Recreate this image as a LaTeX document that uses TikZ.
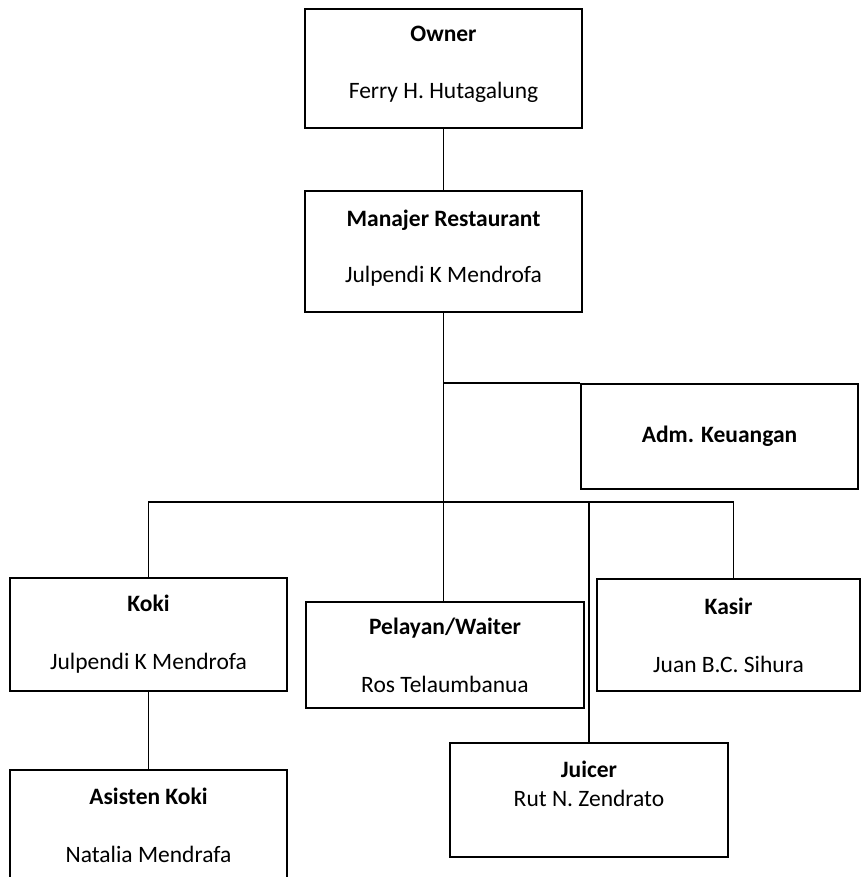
\documentclass[tikz,border=0pt]{standalone}
\usepackage{fontspec}
\setmainfont{Carlito}
\usetikzlibrary{positioning}

\begin{document}
\begin{tikzpicture}[x=1pt,y=-1pt,font=\fontsize{23.5}{29}\selectfont,
    unit/.style={draw,rectangle,line width=1.6pt,inner sep=0pt,align=center,minimum width=277pt},
    link/.style={line width=1.5pt}]
    \useasboundingbox (0,0) rectangle (861,877);
    \clip (0,0) rectangle (861,877);
    \node[unit,minimum height=119pt] (owner) at (443.5,68.5) {\textbf{Owner}\\[28pt]Ferry H. Hutagalung\\[-17pt]\mbox{}};
    \node[unit,minimum height=121pt] (manajer) at (443.5,251.5) {\textbf{Manajer Restaurant}\\[27pt]Julpendi K Mendrofa\\[-19pt]\mbox{}};
    \node[unit,minimum height=105pt] (adm) at (719.5,436.5) {\textbf{Adm. Keuangan}};
    \node[unit,minimum height=113pt] (koki) at (148.5,634.5) {\textbf{Koki}\\[29pt]Julpendi K Mendrofa};
    \node[unit,minimum height=106pt,minimum width=278pt] (pelayan) at (445,655) {\textbf{Pelayan/Waiter}\\[29pt]Ros Telaumbanua};
    \node[unit,minimum height=112pt,minimum width=263pt] (kasir) at (728.5,635) {\textbf{Kasir}\\[29pt]Juan B.C. Sihura};
    \node[unit,minimum height=114pt,minimum width=278pt] (juicer) at (589,800) {\textbf{Juicer}\\Rut N. Zendrato\\[4pt]\mbox{}};
    \node[unit,minimum height=130pt,anchor=north] (asisten) at (148.5,769) {\textbf{Asisten Koki}\\[29pt]Natalia Mendrafa\\[-10pt]\mbox{}};

    % garis komando
    \coordinate (bus) at (443.5,502);
    \draw[link] (owner) -- (manajer);
    \draw[link] (manajer) -- (bus);
    \draw[link] (manajer.south |- adm.north west) -- (adm.north west);
    \draw[link] (bus) -| (koki);
    \draw[link] (bus) -- (bus |- pelayan.north);
    \draw[link] (bus) -| (juicer);
    \draw[link] (bus) -| ([xshift=5pt]kasir.north);
    \draw[link] (koki) -- (asisten);
\end{tikzpicture}
\end{document}
